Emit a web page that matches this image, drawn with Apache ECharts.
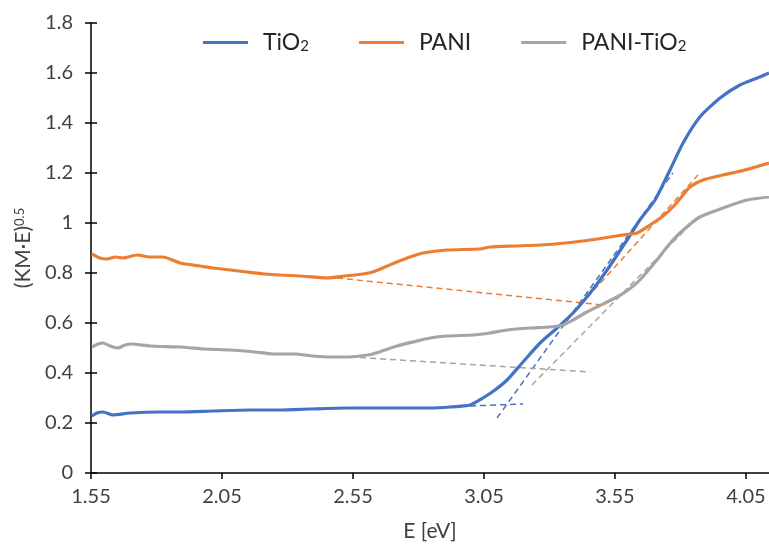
<!DOCTYPE html>
<html>
<head>
<meta charset="utf-8">
<script src="https://cdn.jsdelivr.net/npm/echarts@6/dist/echarts.min.js"></script>
<style>
  html, body { margin: 0; padding: 0; background: #fff; }
  #chart { width: 769px; height: 548px; }
</style>
</head>
<body>
<div id="chart"></div>
<script>
// x ticks / y range
const xTicks = [1.55, 2.05, 2.55, 3.05, 3.55, 4.05]

// TiO2
const tio2E = [1.553, 1.573, 1.596, 1.634, 1.699, 1.813, 1.89, 2.016, 2.157, 2.271, 2.386, 2.527, 2.691, 2.844, 2.92, 2.997, 3.046, 3.092, 3.138, 3.199, 3.264, 3.329, 3.39, 3.455, 3.52, 3.596, 3.645, 3.703, 3.76, 3.81, 3.874, 3.951, 4.027, 4.103, 4.138]
const tio2Y = [0.228, 0.24, 0.244, 0.232, 0.24, 0.244, 0.244, 0.248, 0.252, 0.252, 0.256, 0.26, 0.26, 0.26, 0.264, 0.272, 0.30, 0.332, 0.372, 0.444, 0.52, 0.58, 0.64, 0.72, 0.812, 0.932, 1.012, 1.092, 1.212, 1.32, 1.424, 1.50, 1.552, 1.584, 1.60]

// PANI
const paniE = [1.553, 1.584, 1.611, 1.642, 1.672, 1.726, 1.775, 1.825, 1.89, 1.966, 2.016, 2.081, 2.145, 2.214, 2.271, 2.348, 2.451, 2.519, 2.588, 2.626, 2.672, 2.718, 2.768, 2.817, 2.909, 3.035, 3.073, 3.168, 3.264, 3.359, 3.455, 3.531, 3.58, 3.634, 3.684, 3.729, 3.771, 3.81, 3.836, 3.886, 3.962, 4.046, 4.138]
const paniY = [0.876, 0.86, 0.856, 0.864, 0.86, 0.872, 0.864, 0.864, 0.84, 0.828, 0.82, 0.812, 0.804, 0.796, 0.792, 0.788, 0.78, 0.788, 0.796, 0.804, 0.824, 0.844, 0.864, 0.88, 0.892, 0.896, 0.904, 0.908, 0.912, 0.92, 0.932, 0.944, 0.952, 0.96, 0.992, 1.024, 1.064, 1.112, 1.144, 1.172, 1.192, 1.212, 1.24]

// PANI-TiO2
const compE = [1.554, 1.577, 1.596, 1.623, 1.653, 1.68, 1.707, 1.775, 1.89, 1.985, 2.081, 2.176, 2.245, 2.329, 2.397, 2.462, 2.527, 2.577, 2.626, 2.672, 2.718, 2.779, 2.844, 2.909, 3.008, 3.073, 3.138, 3.226, 3.302, 3.352, 3.39, 3.436, 3.481, 3.558, 3.6, 3.645, 3.71, 3.752, 3.798, 3.874, 3.962, 4.054, 4.138]
const compY = [0.504, 0.516, 0.52, 0.508, 0.50, 0.512, 0.516, 0.508, 0.504, 0.496, 0.492, 0.484, 0.476, 0.476, 0.468, 0.464, 0.464, 0.468, 0.476, 0.492, 0.508, 0.524, 0.54, 0.548, 0.552, 0.56, 0.572, 0.58, 0.584, 0.592, 0.612, 0.64, 0.664, 0.704, 0.732, 0.772, 0.852, 0.908, 0.96, 1.024, 1.06, 1.092, 1.104]

// tangent lines (dashed)
const tio2BaseE = [2.997, 3.199]
const tio2BaseY = [0.268, 0.276]
const tio2SlopeE = [3.1, 3.771]
const tio2SlopeY = [0.22, 1.2]
const paniBaseE = [2.489, 3.504]
const paniBaseY = [0.78, 0.672]
const paniSlopeE = [3.367, 3.867]
const paniSlopeY = [0.612, 1.192]
const compBaseE = [2.539, 3.455]
const compBaseY = [0.464, 0.404]
const compSlopeE = [3.233, 3.874]
const compSlopeY = [0.352, 1.032]

const BLUE = '#4472C4'
const ORANGE = '#ED7D31'
const GRAY = '#A5A5A5'
const FONT = 'Lato'
const TEXT = '#404040'

function zip(xs, ys) {
  return xs.map((x, i) => [x, ys[i]])
}

function mainLine(name, xs, ys, color) {
  return {
    name, type: 'line', symbol: 'none', smooth: 0.2,
    data: zip(xs, ys),
    lineStyle: { color, width: 3.2 },
    itemStyle: { color }
  }
}

function dashLine(name, xs, ys, color) {
  return {
    name, type: 'line', symbol: 'none',
    data: zip(xs, ys),
    lineStyle: { color, width: 1.5, type: [6, 4] },
    itemStyle: { color },
    z: 1
  }
}

const chart = echarts.init(document.getElementById('chart'))
const xBase = { type: 'value', min: 1.55, max: 4.138, splitLine: { show: false } }
const yBase = { type: 'value', min: 0, max: 1.8, interval: 0.2, splitLine: { show: false } }
const tickStyle = { color: '#000', width: 1.5 }

chart.setOption({
  animation: false,
  grid: { left: 91, right: 0, top: 23, bottom: 75 },
  legend: {
    top: 26, left: 198,
    data: ['TiO2', 'PANI', 'PANI-TiO2'],
    itemWidth: 45, itemHeight: 14, itemGap: 50,
    icon: 'path://M0,0 L45,0 L45,3 L0,3 Z',
    textStyle: {
      fontFamily: FONT, fontSize: 23, color: '#262626', padding: [0, 0, 0, 10],
      rich: { sub: { fontFamily: FONT, fontSize: 15, verticalAlign: 'bottom', color: '#262626' } }
    },
    formatter: name => name.replace('TiO2', 'TiO{sub|2}')
  },
  xAxis: [
    Object.assign({}, xBase, {
      name: 'E [eV]', nameLocation: 'middle', nameGap: 48,
      nameTextStyle: { fontFamily: FONT, fontSize: 21, color: TEXT },
      axisLine: { lineStyle: tickStyle },
      axisTick: { customValues: xTicks, length: 6, lineStyle: tickStyle },
      axisLabel: {
        customValues: xTicks, margin: 14,
        fontFamily: FONT, fontSize: 20, color: TEXT,
        formatter: v => v.toFixed(2)
      }
    }),
    Object.assign({}, xBase, {
      axisLine: { show: false },
      axisTick: { customValues: xTicks, inside: true, length: 6, lineStyle: tickStyle },
      axisLabel: { show: false }
    })
  ],
  yAxis: [
    Object.assign({}, yBase, {
      name: '(KM·E){sup|0.5}', nameLocation: 'middle', nameGap: 52,
      nameTextStyle: {
        fontFamily: FONT, fontSize: 21, color: TEXT,
        rich: { sup: { fontFamily: FONT, fontSize: 13, verticalAlign: 'top', color: TEXT } }
      },
      axisLine: { show: true, lineStyle: tickStyle },
      axisTick: { show: true, length: 6, lineStyle: tickStyle },
      axisLabel: { margin: 18, fontFamily: FONT, fontSize: 20, color: TEXT }
    }),
    Object.assign({}, yBase, {
      position: 'left',
      axisLine: { show: false },
      axisTick: { show: true, inside: true, length: 6, lineStyle: tickStyle },
      axisLabel: { show: false }
    })
  ],
  series: [
    dashLine('TiO2 base', tio2BaseE, tio2BaseY, BLUE),
    dashLine('TiO2 slope', tio2SlopeE, tio2SlopeY, BLUE),
    dashLine('PANI base', paniBaseE, paniBaseY, ORANGE),
    dashLine('PANI slope', paniSlopeE, paniSlopeY, ORANGE),
    dashLine('PANI-TiO2 base', compBaseE, compBaseY, GRAY),
    dashLine('PANI-TiO2 slope', compSlopeE, compSlopeY, GRAY),
    mainLine('TiO2', tio2E, tio2Y, BLUE),
    mainLine('PANI', paniE, paniY, ORANGE),
    mainLine('PANI-TiO2', compE, compY, GRAY)
  ]
})
</script>
</body>
</html>
